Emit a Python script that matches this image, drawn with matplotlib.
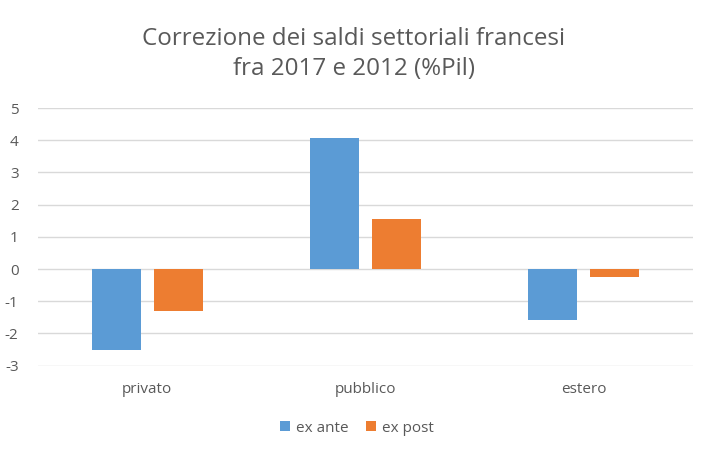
import matplotlib
matplotlib.use("Agg")
import matplotlib.pyplot as plt
import numpy as np

plt.rcParams['font.family'] = ['Open Sans', 'DejaVu Sans']

categories = ["privato", "pubblico", "estero"]
ex_ante = [-2.5, 4.08, -1.59]
ex_post = [-1.3, 1.56, -0.26]
yticks = [-3, -2, -1, 0, 1, 2, 3, 4, 5]

fig = plt.figure(figsize=(7.08, 4.55), dpi=100)
ax = fig.add_axes([38/708, 1-365.7/455, 655/708, (365.7-108)/455])

x = np.arange(len(categories))
w = 0.225
off = 0.142
ax.bar(x - off, ex_ante, w, color="#5B9BD5", label="ex ante", zorder=3)
ax.bar(x + off, ex_post, w, color="#ED7D31", label="ex post", zorder=3)

ax.set_xlim(-0.5, 2.5)
ax.set_ylim(-3, 5)
ax.set_yticks(yticks)
ax.set_yticklabels([str(t) for t in yticks])
ax.set_xticks(x)
ax.set_xticklabels(categories)
ax.grid(axis="y", color="#D9D9D9", linewidth=1, zorder=0)
for s in ax.spines.values():
    s.set_visible(False)
ax.tick_params(axis="both", length=0, colors="#595959", labelsize=11)
ax.tick_params(axis="y", pad=14)
ax.tick_params(axis="x", pad=12)

fig.text(354/708, 1-54/455, "Correzione dei saldi settoriali francesi\nfra 2017 e 2012 (%Pil)",
         ha="center", va="center", fontsize=17.4, color="#595959", linespacing=1.3)

fig.legend(loc="center", bbox_to_anchor=(357/708, 1-428/455), ncol=2, frameon=False,
           fontsize=11, handlelength=0.65, handleheight=0.65, handletextpad=0.4,
           columnspacing=1.1, labelcolor="#595959")

fig.savefig("out.png", dpi=100)
